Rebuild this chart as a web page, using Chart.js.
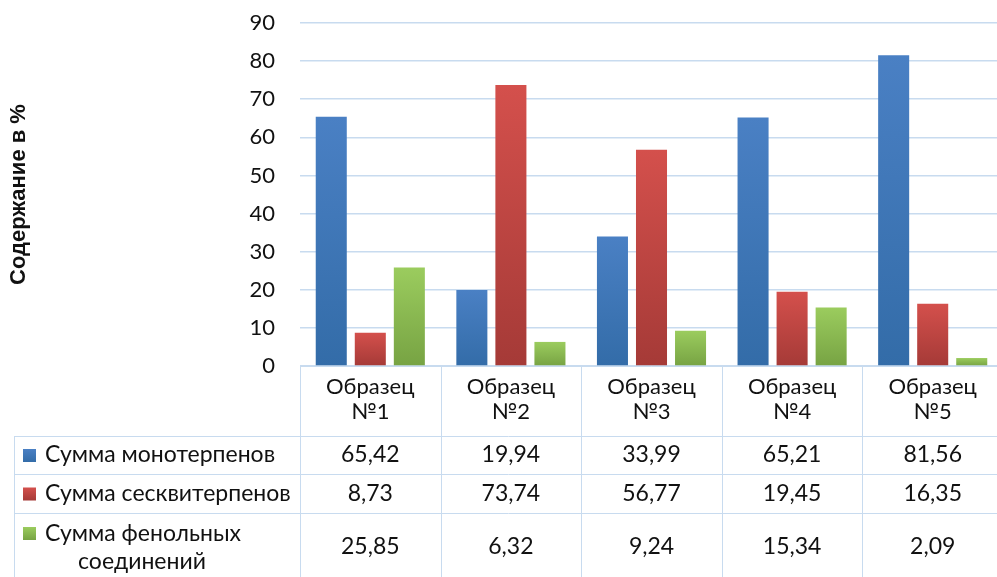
<!DOCTYPE html>
<html>
<head>
<meta charset="utf-8">
<script src="https://cdn.jsdelivr.net/npm/chart.js@4.4.1/dist/chart.umd.min.js"></script>
<style>
  html, body { margin: 0; padding: 0; overflow: hidden; background: #fff; }
  #wrap { width: 1003px; height: 577px; }
</style>
</head>
<body>
<div id="wrap"><canvas id="chart" width="1003" height="577"></canvas></div>
<script>
// ---- data ----
const categories = [['Образец', '№1'], ['Образец', '№2'], ['Образец', '№3'], ['Образец', '№4'], ['Образец', '№5']];
const seriesNames = ['Сумма монотерпенов', 'Сумма сесквитерпенов', 'Сумма фенольных соединений'];
const monoterpenes = [65.42, 19.94, 33.99, 65.21, 81.56];
const sesquiterpenes = [8.73, 73.74, 56.77, 19.45, 16.35];
const phenolics = [25.85, 6.32, 9.24, 15.34, 2.09];
const yTicks = [0, 10, 20, 30, 40, 50, 60, 70, 80, 90];

const FONT = 'Lato, "Open Sans", sans-serif';
const FS = 22;
const GRID = '#c8dbef';
const palette = [
  { top: '#4a80c4', bottom: '#336ca8' },
  { top: '#d4504c', bottom: '#a53a37' },
  { top: '#9bcc5e', bottom: '#77a343' }
];

function barFill(i) {
  return function(ctx) {
    const chart = ctx.chart;
    if (!chart.chartArea || ctx.type !== 'data') return palette[i].top;
    const y = chart.scales.y;
    const top = y.getPixelForValue(ctx.raw);
    const bottom = y.getPixelForValue(0);
    const g = chart.ctx.createLinearGradient(0, top, 0, bottom);
    g.addColorStop(0, palette[i].top);
    g.addColorStop(1, palette[i].bottom);
    return g;
  };
}

// data table drawn under the plot (uses the same arrays)
const dataTable = {
  id: 'dataTable',
  afterDraw(chart) {
    const { ctx, chartArea, scales } = chart;
    const x = scales.x;
    const left = 14, bottom = 580;
    const rows = [436, 474, 513, bottom];
    const values = [monoterpenes, sesquiterpenes, phenolics];
    const step = (chartArea.right - chartArea.left) / categories.length;
    ctx.save();
    ctx.strokeStyle = GRID;
    ctx.lineWidth = 1;
    // vertical lines
    for (let i = 0; i <= categories.length; i++) {
      const px = Math.round(chartArea.left + i * step) + 0.5;
      ctx.beginPath(); ctx.moveTo(px, chartArea.bottom); ctx.lineTo(px, bottom); ctx.stroke();
    }
    ctx.beginPath(); ctx.moveTo(left + 0.5, rows[0]); ctx.lineTo(left + 0.5, bottom); ctx.stroke();
    // horizontal lines
    ctx.beginPath(); ctx.moveTo(chartArea.left, chartArea.bottom + 0.5); ctx.lineTo(chartArea.right, chartArea.bottom + 0.5); ctx.stroke();
    for (let r = 0; r < 3; r++) {
      ctx.beginPath(); ctx.moveTo(left, rows[r] + 0.5); ctx.lineTo(chartArea.right, rows[r] + 0.5); ctx.stroke();
    }
    ctx.font = '23px ' + FONT;
    ctx.textBaseline = 'middle';
    for (let r = 0; r < 3; r++) {
      const cy = (rows[r] + rows[r + 1]) / 2;
      // legend key
      const keyY = r === 2 ? 527 : cy - 6;
      const g = ctx.createLinearGradient(0, keyY, 0, keyY + 13);
      g.addColorStop(0, palette[r].top); g.addColorStop(1, palette[r].bottom);
      ctx.fillStyle = g;
      ctx.fillRect(23, keyY, 13, 13);
      ctx.fillStyle = '#111';
      ctx.textAlign = 'left';
      if (r === 2) {
        const parts = seriesNames[r].split(' ');
        ctx.fillText(parts[0] + ' ' + parts[1], 45, 534);
        ctx.textAlign = 'center';
        ctx.fillText(parts[2], 142, 562);
      } else {
        ctx.fillText(seriesNames[r], 45, cy);
      }
      ctx.textAlign = 'center';
      values[r].forEach((v, i) => {
        ctx.fillText(v.toFixed(2).replace('.', ','), x.getPixelForValue(i), cy);
      });
    }
    ctx.restore();
  }
};

new Chart(document.getElementById('chart'), {
  type: 'bar',
  data: {
    labels: categories,
    datasets: [
      { label: seriesNames[0], data: monoterpenes, backgroundColor: barFill(0) },
      { label: seriesNames[1], data: sesquiterpenes, backgroundColor: barFill(1) },
      { label: seriesNames[2], data: phenolics, backgroundColor: barFill(2) }
    ]
  },
  options: {
    responsive: false,
    animation: false,
    categoryPercentage: 0.833,
    barPercentage: 0.795,
    layout: { padding: { top: 23, right: 0, bottom: 0, left: 0 } },
    plugins: { legend: { display: false }, tooltip: { enabled: false } },
    scales: {
      x: {
        grid: { display: false, drawTicks: false },
        border: { display: false },
        ticks: { color: '#111', font: { size: FS, family: FONT, lineHeight: 1.14 }, padding: 8, maxRotation: 0 },
        afterFit(scale) { scale.height = 577 - 366; }
      },
      y: {
        min: 0, max: 90,
        afterBuildTicks(scale) { scale.ticks = yTicks.map(v => ({ value: v })); },
        // invisible tick marks keep the labels 25px off the plot without padding the top
        grid: { color: GRID, lineWidth: 1.5, drawTicks: true, tickLength: 22, tickColor: 'rgba(0,0,0,0)' },
        border: { display: false },
        ticks: { color: '#111', font: { size: FS, family: FONT }, padding: 3 },
        title: { display: true, text: 'Содержание в %', color: '#111', font: { size: 22, weight: 'bold', family: '"Liberation Sans", Arial, sans-serif' }, padding: { top: 6, bottom: 0 } },
        afterFit(scale) { scale.width = 300; }
      }
    }
  },
  plugins: [dataTable]
});
</script>
</body>
</html>
